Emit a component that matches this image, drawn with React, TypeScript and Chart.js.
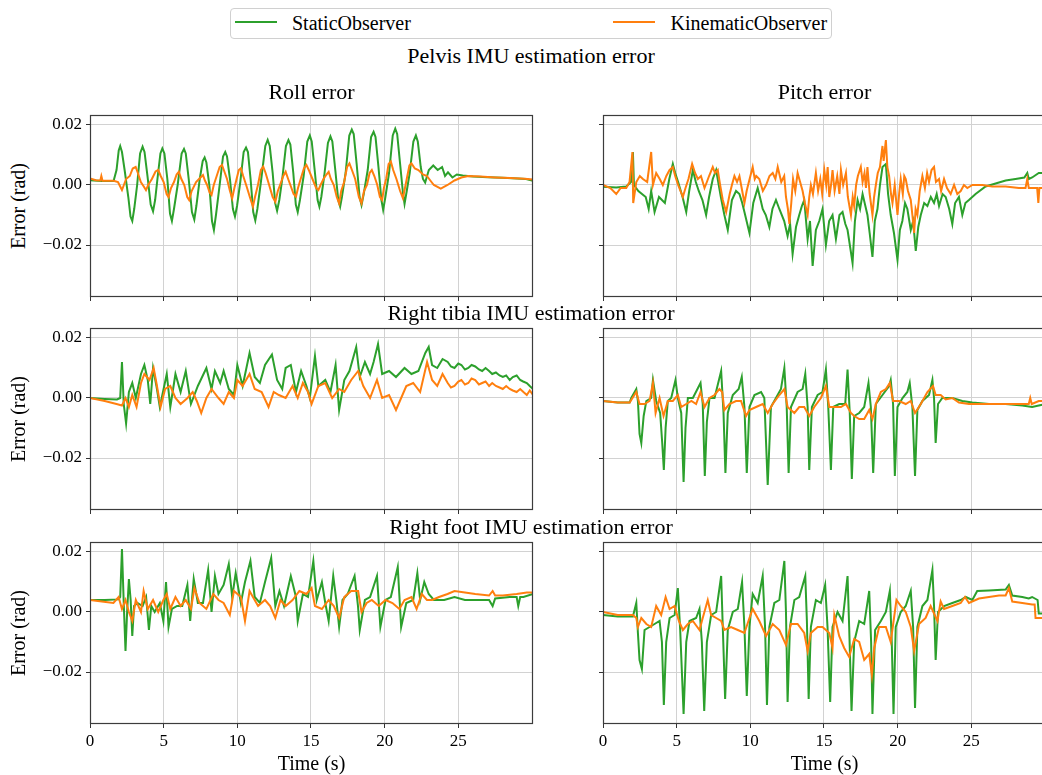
import React, { useEffect, useRef } from 'react';
import { Chart, registerables } from 'chart.js';

Chart.register(...registerables);

type Pts = [number, number][];

const seriesNames = ['StaticObserver', 'KinematicObserver'];
const seriesColors = ['#2ca02c', '#ff7f0e'];
const groupTitles = ['Pelvis IMU estimation error', 'Right tibia IMU estimation error', 'Right foot IMU estimation error'];
const columnTitles = ['Roll error', 'Pitch error'];
const yAxisLabel = 'Error (rad)';
const xAxisLabel = 'Time (s)';
const xTicks = [0, 5, 10, 15, 20, 25];
const yTicks = [-0.02, 0, 0.02];
const X_MIN = 0;
const X_MAX = 30.07;
const Y_MIN = -0.03733;
const Y_MAX = 0.02333;

// ---- Pelvis roll ----
const pelvisRollStatic: Pts = [
  [0, 0.0016], [0.8, 0.0013], [1.6, 0.0013], [1.8, 0.005], [1.95, 0.0115], [2.05, 0.013], [2.17, 0.011], [2.35, 0.005],
  [2.6, -0.004], [2.75, -0.0105], [2.87, -0.012], [3.0, -0.008], [3.2, 0.0], [3.4, 0.0105], [3.57, 0.0128], [3.7, 0.011],
  [3.9, 0.003], [4.12, -0.0065], [4.28, -0.0088], [4.42, -0.005], [4.6, 0.003], [4.78, 0.0105], [4.91, 0.0122], [5.05, 0.0105],
  [5.25, 0.002], [5.43, -0.0095], [5.56, -0.012], [5.7, -0.008], [5.95, 0.0], [6.22, 0.0105], [6.38, 0.012], [6.5, 0.0105],
  [6.7, 0.002], [6.92, -0.009], [7.08, -0.0115], [7.22, -0.007], [7.45, 0.002], [7.65, 0.008], [7.78, 0.0092], [7.9, 0.0075],
  [8.1, 0.0], [8.28, -0.012], [8.41, -0.015], [8.55, -0.01], [8.8, 0.0], [9.03, 0.0095], [9.18, 0.011], [9.3, 0.0095],
  [9.5, 0.002], [9.7, -0.008], [9.84, -0.0105], [9.98, -0.007], [10.2, 0.001], [10.43, 0.011], [10.59, 0.0125], [10.72, 0.011],
  [10.9, 0.002], [11.08, -0.009], [11.22, -0.0118], [11.36, -0.008], [11.6, 0.001], [11.9, 0.013], [12.06, 0.015], [12.2, 0.013],
  [12.4, 0.004], [12.57, -0.006], [12.7, -0.0086], [12.85, -0.005], [13.05, 0.002], [13.3, 0.013], [13.47, 0.015], [13.6, 0.0135],
  [13.8, 0.004], [13.97, -0.0065], [14.1, -0.009], [14.25, -0.005], [14.5, 0.003], [14.75, 0.0145], [14.92, 0.0165], [15.05, 0.0145],
  [15.25, 0.005], [15.45, -0.005], [15.57, -0.0072], [15.7, -0.004], [15.9, 0.003], [16.15, 0.014], [16.32, 0.0162], [16.45, 0.0145],
  [16.65, 0.005], [16.85, -0.005], [16.98, -0.0072], [17.1, -0.004], [17.35, 0.004], [17.6, 0.0165], [17.77, 0.0185], [17.9, 0.017],
  [18.1, 0.007], [18.3, -0.004], [18.43, -0.0067], [18.58, -0.003], [18.85, 0.005], [19.08, 0.016], [19.25, 0.0177], [19.38, 0.016],
  [19.58, 0.006], [19.78, -0.005], [19.9, -0.0083], [20.05, -0.004], [20.3, 0.004], [20.55, 0.0165], [20.72, 0.0188], [20.85, 0.017],
  [21.05, 0.007], [21.25, -0.003], [21.35, -0.0063], [21.5, -0.002], [21.7, 0.004], [21.95, 0.0145], [22.12, 0.0165], [22.25, 0.0145],
  [22.45, 0.006], [22.6, 0.002], [22.75, 0.0008], [23.0, 0.005], [23.3, 0.0065], [23.6, 0.005], [23.9, 0.006], [24.1, 0.003],
  [24.3, 0.0042], [24.6, 0.0025], [24.9, 0.0035], [25.3, 0.0032], [26.0, 0.0028], [27.0, 0.0026], [28.0, 0.0024], [29.0, 0.0022],
  [29.6, 0.002], [30.07, 0.0014],
];
const pelvisRollKinematic: Pts = [
  [0, 0.0022], [0.4, 0.0016], [0.7, 0.0015], [0.77, 0.003], [0.85, 0.0014], [1.6, 0.0014], [1.9, 0.001], [2.05, -0.0005],
  [2.17, -0.0017], [2.3, 0.0], [2.45, 0.002], [2.7, 0.003], [2.9, 0.0055], [3.1, 0.006], [3.25, 0.004], [3.45, 0.001],
  [3.65, -0.0005], [3.8, -0.0017], [3.95, 0.0], [4.2, 0.002], [4.45, 0.0045], [4.63, 0.005], [4.8, 0.003], [5.0, 0.001],
  [5.2, -0.003], [5.33, -0.004], [5.5, -0.001], [5.7, 0.001], [5.88, 0.0035], [6.03, 0.0044], [6.2, 0.002], [6.4, 0.0],
  [6.6, -0.004], [6.73, -0.005], [6.9, -0.002], [7.2, 0.001], [7.5, 0.0025], [7.67, 0.0033], [7.8, 0.0015], [7.95, 0.0],
  [8.12, -0.0025], [8.25, -0.0033], [8.4, 0.0], [8.6, 0.003], [8.8, 0.006], [8.96, 0.0067], [9.12, 0.0045], [9.3, 0.002],
  [9.5, -0.002], [9.65, -0.0044], [9.8, -0.001], [9.95, 0.002], [10.1, 0.005], [10.24, 0.0056], [10.4, 0.003], [10.6, 0.0],
  [10.85, -0.004], [11.06, -0.0072], [11.2, -0.004], [11.4, 0.0], [11.6, 0.005], [11.76, 0.0061], [11.92, 0.004], [12.1, 0.001],
  [12.4, -0.004], [12.58, -0.0056], [12.75, -0.002], [12.9, 0.0], [13.12, 0.003], [13.28, 0.0044], [13.45, 0.002], [13.6, 0.0],
  [13.82, -0.003], [13.98, -0.0039], [14.12, -0.001], [14.3, 0.002], [14.52, 0.0055], [14.69, 0.0067], [14.85, 0.005], [15.1, 0.002],
  [15.35, -0.001], [15.5, -0.0017], [15.65, 0.0], [15.85, 0.002], [16.05, 0.0035], [16.2, 0.0044], [16.35, 0.002], [16.55, 0.0],
  [16.75, -0.004], [16.91, -0.0061], [17.05, -0.002], [17.25, 0.001], [17.45, 0.006], [17.61, 0.0072], [17.78, 0.005], [18.0, 0.002],
  [18.25, -0.004], [18.43, -0.0061], [18.6, -0.002], [18.8, 0.0], [18.98, 0.004], [19.13, 0.005], [19.3, 0.003], [19.5, 0.0],
  [19.68, -0.004], [19.83, -0.005], [19.95, -0.001], [20.1, 0.002], [20.27, 0.007], [20.42, 0.0078], [20.58, 0.005], [20.8, 0.002],
  [21.05, -0.002], [21.24, -0.0044], [21.38, -0.001], [21.5, 0.002], [21.68, 0.0065], [21.82, 0.0072], [22.05, 0.0055], [22.29, 0.005],
  [22.6, 0.0035], [22.87, 0.003], [23.1, 0.0015], [23.34, 0.0], [23.81, -0.0012], [24.27, 0.0], [24.74, 0.0015], [25.21, 0.0025],
  [25.68, 0.003], [26.5, 0.0028], [27.5, 0.0025], [28.5, 0.0023], [29.5, 0.0021], [30.07, 0.0018],
];

// ---- Pelvis pitch ----
const pelvisPitchStatic: Pts = [
  [0, -0.0006], [0.9, -0.0008], [1.58, -0.0005], [1.9, 0.001], [2.03, 0.011], [2.1, 0.0], [2.4, -0.002], [2.9, -0.004],
  [3.1, -0.008], [3.27, -0.002], [3.5, -0.009], [3.8, -0.004], [4.2, -0.006], [4.5, 0.002], [4.74, 0.007], [4.9, 0.004],
  [5.1, 0.001], [5.4, -0.004], [5.65, -0.009], [5.85, -0.002], [6.1, 0.005], [6.3, 0.001], [6.5, -0.002], [6.75, -0.005],
  [7.0, -0.01], [7.2, -0.004], [7.45, 0.002], [7.68, 0.005], [8.0, -0.004], [8.24, -0.01], [8.47, -0.015], [8.75, -0.005],
  [9.03, -0.002], [9.26, -0.003], [9.45, -0.006], [9.6, -0.009], [9.94, -0.016], [10.2, -0.006], [10.5, -0.001], [10.7, -0.005],
  [10.84, -0.008], [11.05, -0.01], [11.29, -0.014], [11.5, -0.008], [11.74, -0.005], [11.97, -0.008], [12.3, -0.012], [12.53, -0.017],
  [12.7, -0.013], [12.87, -0.023], [13.1, -0.014], [13.32, -0.01], [13.5, -0.007], [13.66, -0.005], [13.89, -0.018], [14.05, -0.012],
  [14.23, -0.027], [14.45, -0.015], [14.68, -0.012], [14.9, -0.008], [15.13, -0.02], [15.35, -0.012], [15.58, -0.01], [15.81, -0.018],
  [16.05, -0.01], [16.26, -0.009], [16.45, -0.013], [16.6, -0.015], [16.94, -0.026], [17.1, -0.012], [17.28, -0.005], [17.45, -0.008],
  [17.62, -0.003], [17.95, -0.01], [18.1, -0.016], [18.29, -0.024], [18.45, -0.012], [18.63, -0.008], [18.8, 0.0], [18.97, 0.006],
  [19.2, 0.007], [19.35, -0.003], [19.53, -0.01], [19.75, -0.016], [19.99, -0.025], [20.15, -0.015], [20.32, -0.012], [20.5, -0.006],
  [20.66, -0.008], [20.89, -0.015], [21.05, -0.012], [21.23, -0.022], [21.4, -0.014], [21.57, -0.01], [21.8, -0.006], [22.02, -0.007],
  [22.25, -0.004], [22.47, -0.006], [22.65, -0.003], [22.81, -0.007], [23.05, -0.003], [23.26, -0.004], [23.5, -0.008], [23.71, -0.013],
  [23.9, -0.006], [24.16, -0.004], [24.39, -0.01], [24.6, -0.006], [24.84, -0.005], [25.29, -0.003], [25.97, -0.0005], [26.65, 0.0005],
  [27.33, 0.0015], [28.0, 0.002], [28.6, 0.0025], [28.8, 0.004], [28.9, 0.002], [29.13, 0.0025], [29.58, 0.004], [30.07, 0.004],
];
const pelvisPitchKinematic: Pts = [
  [0, 0.0], [0.5, -0.001], [0.9, -0.003], [1.2, -0.001], [1.58, -0.001], [1.8, 0.001], [2.0, 0.011], [2.05, -0.006],
  [2.26, 0.001], [2.5, 0.003], [2.71, 0.002], [3.0, 0.001], [3.27, 0.011], [3.39, 0.0], [3.61, 0.004], [3.85, 0.002],
  [4.06, 0.0], [4.3, 0.003], [4.52, 0.005], [4.74, 0.006], [4.9, 0.003], [5.1, 0.0], [5.42, -0.004], [5.6, -0.001],
  [5.8, 0.002], [6.05, 0.007], [6.25, 0.004], [6.44, 0.002], [6.65, 0.003], [6.89, -0.001], [7.05, 0.001], [7.2, 0.003],
  [7.45, 0.006], [7.6, 0.004], [7.79, 0.005], [7.95, 0.0], [8.13, -0.005], [8.36, -0.009], [8.6, -0.003], [8.75, 0.0],
  [8.92, 0.003], [9.1, 0.001], [9.26, 0.003], [9.45, -0.002], [9.6, -0.006], [9.75, -0.002], [9.9, 0.001], [10.16, 0.006],
  [10.3, 0.002], [10.4, 0.003], [10.61, 0.002], [10.85, -0.002], [11.07, 0.0], [11.3, 0.003], [11.52, 0.004], [11.7, 0.002],
  [11.86, 0.006], [12.1, 0.001], [12.3, 0.003], [12.42, -0.004], [12.55, -0.008], [12.65, -0.013], [12.78, -0.006], [12.9, 0.002],
  [13.05, -0.002], [13.21, 0.004], [13.38, 0.001], [13.55, -0.002], [13.7, -0.006], [13.89, -0.01], [14.0, -0.004], [14.11, 0.0],
  [14.25, -0.003], [14.45, 0.004], [14.6, -0.002], [14.75, 0.002], [14.88, -0.003], [15.02, 0.005], [15.15, 0.0], [15.25, 0.006],
  [15.36, -0.004], [15.48, 0.0], [15.58, 0.005], [15.72, -0.002], [15.9, 0.003], [16.05, -0.003], [16.15, 0.005], [16.3, 0.0],
  [16.49, 0.004], [16.62, -0.004], [16.83, -0.01], [16.95, -0.004], [17.05, -0.007], [17.18, 0.0], [17.3, 0.003], [17.5, 0.006],
  [17.62, 0.001], [17.75, 0.004], [17.85, -0.001], [17.95, 0.006], [18.1, -0.003], [18.29, -0.01], [18.4, -0.004], [18.52, 0.0],
  [18.65, 0.004], [18.8, 0.006], [18.97, 0.013], [19.05, 0.008], [19.2, 0.015], [19.3, 0.006], [19.42, 0.003], [19.55, -0.003],
  [19.65, -0.006], [19.8, 0.0], [19.99, -0.01], [20.1, -0.003], [20.21, 0.002], [20.35, -0.003], [20.45, 0.003], [20.55, 0.002],
  [20.7, -0.002], [20.89, -0.005], [21.0, -0.01], [21.12, -0.016], [21.22, -0.008], [21.34, -0.01], [21.5, -0.002], [21.68, 0.003],
  [21.85, -0.001], [22.0, 0.004], [22.13, 0.001], [22.3, 0.005], [22.47, 0.006], [22.6, 0.001], [22.81, 0.002], [22.95, -0.002],
  [23.15, 0.002], [23.35, -0.001], [23.6, -0.003], [23.83, 0.0], [24.05, -0.003], [24.28, -0.002], [24.5, 0.0], [24.73, -0.001],
  [25.07, 0.0], [25.75, 0.0], [26.42, -0.0005], [27.33, -0.0005], [28.23, -0.001], [28.68, -0.001], [28.8, 0.002], [28.9, -0.001],
  [29.47, -0.001], [29.55, -0.006], [29.62, -0.001], [30.07, -0.001],
];

// ---- Right tibia roll ----
const tibiaRollStatic: Pts = [
  [0, 0.0], [1.0, -0.0003], [1.83, -0.0005], [2.05, 0.0], [2.17, 0.012], [2.29, -0.002], [2.45, -0.0085], [2.64, 0.002],
  [2.87, 0.005], [3.11, 0.0], [3.46, 0.008], [3.69, 0.011], [3.92, 0.006], [4.09, -0.002], [4.28, 0.01], [4.51, 0.004],
  [4.74, -0.003], [5.21, 0.008], [5.45, -0.003], [5.8, 0.008], [6.15, 0.002], [6.5, 0.009], [6.85, -0.002], [7.32, 0.004],
  [7.9, 0.01], [8.25, 0.003], [8.48, 0.009], [8.84, 0.005], [9.07, 0.009], [9.42, 0.003], [9.77, 0.001], [10.0, 0.011],
  [10.36, 0.004], [10.83, 0.015], [11.18, 0.007], [11.53, 0.005], [11.88, 0.011], [12.35, 0.0145], [12.7, 0.006], [13.05, 0.003],
  [13.28, 0.01], [13.63, 0.011], [13.98, 0.002], [14.33, 0.009], [14.69, 0.004], [14.92, 0.0], [15.27, 0.014], [15.5, 0.004],
  [15.97, 0.006], [16.32, 0.002], [16.67, 0.011], [16.91, -0.004], [17.26, 0.006], [17.61, 0.009], [18.07, 0.017], [18.31, 0.007],
  [18.66, 0.012], [19.01, 0.008], [19.25, 0.012], [19.55, 0.018], [19.83, 0.008], [20.3, 0.009], [20.77, 0.007], [21.35, 0.01],
  [21.82, 0.008], [22.29, 0.009], [22.76, 0.015], [22.99, 0.017], [23.22, 0.011], [23.57, 0.01], [23.93, 0.013], [24.28, 0.012],
  [24.5, 0.0105], [24.74, 0.01], [25.0, 0.0115], [25.21, 0.011], [25.45, 0.0095], [25.68, 0.01], [25.9, 0.011], [26.15, 0.0105],
  [26.4, 0.0095], [26.62, 0.009], [26.85, 0.01], [27.09, 0.009], [27.3, 0.008], [27.55, 0.0085], [27.8, 0.0075], [28.02, 0.007],
  [28.25, 0.0075], [28.49, 0.006], [28.7, 0.007], [28.96, 0.0075], [29.2, 0.006], [29.4, 0.0055], [29.65, 0.005], [29.85, 0.004],
  [30.07, 0.003],
];
const tibiaRollKinematic: Pts = [
  [0, 0.0], [1.0, -0.001], [1.8, -0.002], [2.17, -0.0025], [2.41, 0.0], [2.64, -0.003], [2.87, 0.001], [3.16, -0.003],
  [3.46, 0.005], [3.69, 0.008], [4.04, 0.006], [4.32, 0.01], [4.51, 0.005], [4.79, -0.003], [5.1, 0.003], [5.45, 0.004],
  [5.8, 0.0], [6.15, -0.002], [6.62, 0.0], [6.97, 0.002], [7.25, -0.001], [7.55, -0.005], [7.9, 0.0], [8.25, 0.003],
  [8.72, 0.0], [9.07, -0.002], [9.42, 0.002], [9.77, 0.0], [10.0, 0.006], [10.36, 0.004], [10.83, 0.008], [11.18, 0.003],
  [11.65, 0.002], [12.12, -0.003], [12.47, 0.002], [12.82, 0.001], [13.28, 0.0], [13.75, 0.004], [14.1, 0.0], [14.45, 0.005],
  [14.8, 0.002], [15.04, -0.002], [15.5, 0.004], [15.97, 0.005], [16.44, 0.0], [16.91, 0.003], [17.26, 0.002], [17.73, 0.006],
  [18.2, 0.009], [18.55, 0.004], [19.01, 0.0], [19.48, 0.006], [19.83, 0.0], [20.3, 0.001], [20.77, -0.004], [21.12, 0.0],
  [21.47, 0.004], [21.94, 0.005], [22.41, 0.002], [22.88, 0.012], [23.22, 0.006], [23.57, 0.004], [23.93, 0.008], [24.28, 0.005],
  [24.5, 0.0035], [24.74, 0.004], [25.0, 0.0055], [25.21, 0.006], [25.45, 0.0045], [25.68, 0.005], [25.9, 0.0065], [26.15, 0.006],
  [26.4, 0.0045], [26.62, 0.005], [26.85, 0.0055], [27.09, 0.004], [27.3, 0.005], [27.55, 0.004], [27.8, 0.0035], [28.02, 0.003],
  [28.25, 0.004], [28.49, 0.003], [28.7, 0.0025], [28.96, 0.002], [29.2, 0.003], [29.42, 0.002], [29.65, 0.001], [29.85, 0.0025],
  [30.07, 0.001],
];

// ---- Right tibia pitch ----
const tibiaPitchStatic: Pts = [
  [0, -0.001], [1.0, -0.0015], [1.81, -0.0015], [1.92, 0.0], [2.26, 0.003], [2.37, -0.001], [2.48, -0.012], [2.6, -0.015],
  [2.76, -0.006], [2.94, -0.001], [3.27, 0.0], [3.39, 0.006], [3.61, -0.001], [3.88, -0.005], [4.02, -0.015], [4.13, -0.024],
  [4.25, -0.01], [4.4, -0.001], [4.63, 0.0], [4.92, 0.006], [5.08, 0.0], [5.31, -0.005], [5.47, -0.028], [5.6, -0.01],
  [5.76, 0.0], [6.1, 0.0], [6.62, 0.005], [6.77, -0.002], [6.91, -0.026], [7.05, -0.008], [7.23, 0.0], [7.57, 0.0],
  [8.02, 0.009], [8.18, -0.005], [8.31, -0.025], [8.47, -0.005], [8.81, 0.001], [9.21, 0.003], [9.42, 0.007], [9.6, -0.003],
  [9.76, -0.025], [9.94, -0.003], [10.28, 0.001], [10.73, 0.002], [10.95, 0.0], [11.18, -0.029], [11.4, -0.003], [11.74, 0.0],
  [12.08, 0.003], [12.31, 0.01], [12.47, -0.003], [12.6, -0.025], [12.76, -0.003], [13.21, 0.002], [13.55, 0.003], [13.73, 0.008],
  [13.89, -0.003], [14.0, -0.024], [14.18, -0.003], [14.57, 0.001], [14.9, 0.002], [15.13, 0.0095], [15.29, -0.003], [15.47, -0.024],
  [15.63, -0.003], [16.03, -0.002], [16.44, -0.002], [16.6, 0.0095], [16.75, -0.005], [16.89, -0.027], [17.05, -0.006], [17.39, -0.005],
  [17.73, -0.003], [18.02, 0.005], [18.18, -0.003], [18.34, -0.025], [18.52, -0.002], [18.97, 0.001], [19.42, 0.004], [19.53, 0.006],
  [19.69, -0.002], [19.81, -0.026], [19.99, -0.003], [20.33, 0.0], [20.66, 0.002], [20.82, 0.005], [21.0, -0.003], [21.18, -0.026],
  [21.34, -0.004], [21.68, -0.001], [22.13, 0.001], [22.36, 0.006], [22.47, 0.0], [22.58, -0.015], [22.74, -0.002], [23.03, 0.0],
  [23.71, 0.0], [24.39, -0.001], [25.07, -0.0015], [26.2, -0.002], [27.33, -0.002], [28.46, -0.0025], [29.13, -0.003], [29.58, -0.0025],
  [30.07, -0.002],
];
const tibiaPitchKinematic: Pts = [
  [0, -0.001], [1.0, -0.0015], [1.81, -0.0015], [2.26, 0.002], [2.48, -0.002], [2.82, -0.002], [3.16, -0.001], [3.39, 0.005],
  [3.57, -0.005], [3.84, 0.0], [4.11, -0.006], [4.4, -0.001], [4.74, -0.001], [5.08, 0.001], [5.31, -0.003], [5.65, -0.002],
  [6.0, -0.001], [6.32, -0.002], [6.62, 0.002], [6.89, -0.003], [7.23, 0.0], [7.57, 0.001], [7.9, 0.003], [8.09, 0.002],
  [8.24, -0.004], [8.58, -0.002], [9.03, -0.001], [9.37, -0.001], [9.71, -0.006], [9.94, -0.004], [10.39, -0.003], [10.84, -0.002],
  [11.18, -0.005], [11.52, -0.002], [11.97, 0.001], [12.31, 0.003], [12.53, -0.003], [12.99, -0.005], [13.32, -0.003], [13.66, -0.003],
  [14.0, -0.006], [14.34, -0.003], [14.79, 0.0], [15.13, 0.004], [15.36, -0.003], [15.7, -0.003], [16.15, -0.003], [16.49, -0.002],
  [16.83, -0.005], [17.05, -0.006], [17.39, -0.007], [17.73, -0.007], [18.07, -0.004], [18.29, -0.007], [18.52, -0.002], [18.86, 0.002],
  [19.2, 0.003], [19.47, 0.005], [19.69, -0.001], [20.1, -0.001], [20.55, -0.002], [20.89, -0.001], [21.18, -0.005], [21.57, -0.002],
  [22.02, 0.002], [22.4, 0.004], [22.58, 0.001], [22.92, 0.001], [23.26, -0.0005], [23.71, 0.0], [24.16, -0.0015], [24.84, -0.002],
  [25.75, -0.002], [26.88, -0.002], [28.0, -0.002], [28.9, -0.002], [29.0, 0.0], [29.1, -0.002], [29.58, -0.001], [30.07, -0.001],
];

// ---- Right foot roll ----
const footRollStatic: Pts = [
  [0, 0.004], [1.0, 0.004], [1.94, 0.0042], [2.05, 0.005], [2.17, 0.021], [2.29, 0.003], [2.41, -0.013], [2.52, 0.0],
  [2.64, 0.011], [2.76, 0.004], [2.87, -0.008], [2.99, 0.002], [3.22, 0.003], [3.57, 0.002], [3.81, 0.005], [4.0, -0.006],
  [4.16, 0.002], [4.39, 0.0], [4.74, 0.003], [4.98, -0.003], [5.16, 0.01], [5.33, -0.005], [5.56, 0.001], [5.91, 0.002],
  [6.26, 0.002], [6.61, 0.009], [6.8, -0.003], [7.04, 0.011], [7.32, 0.003], [7.67, 0.003], [8.02, 0.014], [8.25, 0.0],
  [8.48, 0.012], [8.72, 0.006], [9.07, 0.009], [9.42, 0.016], [9.65, 0.005], [9.89, 0.013], [10.24, 0.003], [10.52, 0.01],
  [10.89, 0.017], [11.18, 0.005], [11.53, 0.003], [11.88, 0.01], [12.3, 0.018], [12.58, 0.002], [12.86, 0.007], [13.17, 0.002],
  [13.63, 0.012], [13.98, 0.005], [14.1, -0.003], [14.45, 0.006], [14.8, 0.005], [15.16, 0.017], [15.39, 0.004], [15.74, 0.01],
  [15.97, 0.003], [16.2, -0.003], [16.51, 0.012], [16.74, 0.003], [16.91, -0.005], [17.14, 0.004], [17.49, 0.006], [17.96, 0.012],
  [18.19, 0.002], [18.31, -0.006], [18.66, 0.004], [19.01, 0.005], [19.48, 0.012], [19.71, -0.005], [20.06, 0.004], [20.42, 0.005],
  [20.89, 0.015], [21.12, -0.005], [21.47, 0.003], [21.94, 0.004], [22.22, 0.013], [22.41, 0.004], [22.69, 0.01], [22.99, 0.006],
  [23.34, 0.004], [24.04, 0.004], [24.74, 0.005], [25.45, 0.004], [26.15, 0.004], [27.09, 0.004], [27.33, 0.002], [27.5, 0.0045],
  [28.49, 0.005], [28.96, 0.005], [29.07, 0.002], [29.2, 0.005], [29.42, 0.005], [30.07, 0.006],
];
const footRollKinematic: Pts = [
  [0, 0.004], [0.8, 0.0035], [1.59, 0.003], [1.94, 0.005], [2.17, 0.001], [2.41, 0.004], [2.64, 0.0], [2.87, -0.003],
  [3.11, 0.004], [3.46, 0.0], [3.64, 0.007], [3.92, 0.001], [4.28, 0.004], [4.63, 0.0], [4.98, 0.004], [5.21, 0.006],
  [5.45, 0.001], [5.8, 0.005], [6.15, 0.002], [6.5, 0.004], [6.85, 0.001], [7.09, 0.008], [7.43, 0.003], [7.9, 0.001],
  [8.37, 0.006], [8.72, 0.004], [9.07, 0.003], [9.49, -0.001], [9.77, 0.007], [10.24, 0.005], [10.52, -0.003], [10.83, 0.007],
  [11.06, 0.005], [11.41, 0.002], [11.88, 0.004], [12.23, 0.002], [12.58, -0.002], [12.93, 0.004], [13.28, 0.002], [13.75, 0.004],
  [14.21, 0.007], [14.69, 0.006], [15.04, 0.008], [15.27, 0.002], [15.74, 0.001], [16.2, 0.004], [16.55, 0.002], [16.91, -0.002],
  [17.26, 0.005], [17.73, 0.007], [18.2, 0.007], [18.43, 0.0], [18.78, 0.003], [19.13, 0.004], [19.6, 0.002], [20.06, 0.004],
  [20.53, 0.003], [21.0, 0.001], [21.35, 0.004], [21.82, 0.005], [22.17, 0.001], [22.52, 0.006], [22.87, 0.004], [23.22, 0.004],
  [23.69, 0.005], [24.27, 0.006], [24.74, 0.007], [25.45, 0.0065], [26.15, 0.006], [27.09, 0.0055], [27.33, 0.007], [27.5, 0.0055],
  [28.02, 0.0055], [28.96, 0.006], [29.65, 0.0065], [30.07, 0.0065],
];

// ---- Right foot pitch ----
const footPitchStatic: Pts = [
  [0, -0.001], [1.0, -0.0015], [2.03, -0.0015], [2.26, 0.003], [2.37, -0.007], [2.48, -0.016], [2.64, -0.019], [2.82, -0.006],
  [3.16, -0.005], [3.5, -0.004], [3.84, -0.003], [4.0, -0.01], [4.13, -0.031], [4.29, -0.01], [4.52, -0.002], [4.86, -0.001],
  [5.08, 0.008], [5.24, -0.006], [5.47, -0.034], [5.65, -0.01], [5.87, -0.003], [6.32, -0.002], [6.55, 0.001], [6.71, -0.01],
  [6.87, -0.033], [7.05, -0.01], [7.34, -0.001], [7.68, 0.0], [8.02, 0.012], [8.13, -0.005], [8.29, -0.029], [8.47, -0.006],
  [8.81, 0.0], [9.15, 0.001], [9.44, 0.01], [9.6, -0.005], [9.76, -0.028], [9.94, -0.005], [10.16, 0.006], [10.5, 0.003],
  [10.84, 0.012], [11.0, -0.005], [11.13, -0.031], [11.29, -0.005], [11.63, 0.003], [11.97, 0.004], [12.31, 0.017], [12.42, 0.0],
  [12.53, -0.03], [12.69, -0.005], [12.99, 0.004], [13.32, 0.005], [13.73, 0.012], [13.84, -0.003], [13.96, -0.029], [14.11, -0.005],
  [14.45, 0.004], [14.79, 0.003], [15.08, 0.009], [15.24, -0.005], [15.42, -0.03], [15.58, -0.005], [15.92, 0.0], [16.26, -0.003],
  [16.6, 0.012], [16.71, -0.005], [16.87, -0.033], [17.05, -0.01], [17.39, -0.003], [17.73, -0.004], [18.07, 0.007], [18.2, -0.01],
  [18.29, -0.034], [18.47, -0.006], [18.86, -0.003], [19.2, 0.0], [19.47, 0.007], [19.6, -0.01], [19.72, -0.034], [19.87, -0.005],
  [20.21, 0.0], [20.55, 0.002], [20.89, 0.007], [21.05, -0.005], [21.18, -0.032], [21.34, -0.005], [21.68, 0.002], [22.02, 0.004],
  [22.36, 0.014], [22.47, 0.002], [22.58, -0.016], [22.74, 0.0], [23.15, 0.002], [23.71, 0.003], [24.28, 0.004], [24.62, 0.005],
  [25.07, 0.004], [25.4, 0.007], [26.2, 0.0072], [27.33, 0.0075], [27.55, 0.009], [27.78, 0.0055], [28.46, 0.005], [28.9, 0.0045],
  [29.13, 0.005], [29.5, 0.004], [29.58, -0.0005], [30.07, -0.0005],
];
const footPitchKinematic: Pts = [
  [0, 0.0], [1.0, -0.001], [2.03, -0.001], [2.26, -0.002], [2.37, -0.005], [2.6, -0.002], [2.94, -0.004], [3.27, -0.005],
  [3.61, 0.002], [3.95, -0.001], [4.25, 0.005], [4.52, 0.001], [4.86, 0.002], [5.15, -0.003], [5.42, -0.006], [5.76, -0.004],
  [6.1, -0.003], [6.55, -0.006], [6.77, -0.002], [7.11, 0.004], [7.34, -0.001], [7.68, -0.002], [8.02, -0.003], [8.24, -0.006],
  [8.69, -0.005], [9.15, -0.006], [9.6, -0.007], [9.94, -0.002], [10.16, 0.001], [10.61, -0.003], [11.07, -0.008], [11.52, -0.004],
  [11.97, -0.006], [12.42, -0.011], [12.76, -0.004], [13.21, -0.004], [13.66, -0.007], [13.89, -0.013], [14.11, -0.007], [14.57, -0.005],
  [14.9, -0.005], [15.36, -0.007], [15.58, -0.012], [15.7, -0.001], [16.03, -0.008], [16.37, -0.012], [16.71, -0.015], [17.05, -0.009],
  [17.39, -0.01], [17.73, -0.016], [18.07, -0.014], [18.25, -0.021], [18.41, -0.012], [18.74, -0.005], [19.2, -0.005], [19.53, -0.01],
  [19.92, 0.004], [20.21, 0.002], [20.55, 0.0], [20.89, -0.005], [21.12, -0.013], [21.45, -0.004], [21.9, -0.002], [22.24, 0.002],
  [22.7, -0.003], [22.92, 0.0035], [23.15, 0.001], [23.71, 0.002], [24.28, 0.003], [24.57, 0.005], [24.84, 0.003], [25.52, 0.0045],
  [26.2, 0.005], [26.88, 0.0055], [27.33, 0.0055], [27.55, 0.008], [27.78, 0.0035], [28.46, 0.003], [29.13, 0.0025], [29.3, 0.0025],
  [29.36, -0.002], [30.07, -0.002],
];

const panelSeries: [Pts, Pts][][] = [
  [[pelvisRollStatic, pelvisRollKinematic], [pelvisPitchStatic, pelvisPitchKinematic]],
  [[tibiaRollStatic, tibiaRollKinematic], [tibiaPitchStatic, tibiaPitchKinematic]],
  [[footRollStatic, footRollKinematic], [footPitchStatic, footPitchKinematic]],
];

// ---- layout (pixels) ----
const ROW_TOP = [115, 328, 542];
const COL_LEFT = [90, 603];
const PLOT_W = 443;
const PLOT_H = 182;
const PAD_T = 20;
const PAD_R = 10;
const FONT = '"Liberation Serif", "DejaVu Serif", serif';
const GRID_COLOR = '#d2d2d2';
const TICK_COLOR = '#333333';
const FRAME_COLOR = '#3c3c3c';

const framePlugin = {
  id: 'frame',
  afterDatasetsDraw(chart: any) {
    const a = chart.chartArea;
    const ctx = chart.ctx;
    ctx.save();
    ctx.strokeStyle = FRAME_COLOR;
    ctx.lineWidth = 1.2;
    ctx.strokeRect(Math.round(a.left) + 0.5, Math.round(a.top) + 0.5, Math.round(a.right - a.left) - 1, Math.round(a.bottom - a.top) - 1);
    ctx.restore();
  },
};

function fmtY(v: number) {
  if (Math.abs(v) < 1e-9) return '0.00';
  return (v < 0 ? '\u2212' : '') + Math.abs(v).toFixed(2);
}

function Panel({ row, col }: { row: number; col: number }) {
  const ref = useRef<HTMLCanvasElement>(null);
  const yw = col === 0 ? 60 : 12;
  const xh = row === 2 ? 40 : 14;
  const w = yw + PLOT_W + PAD_R;
  const h = PAD_T + PLOT_H + xh;
  const left = COL_LEFT[col] - yw;
  const top = ROW_TOP[row] - PAD_T;

  useEffect(() => {
    const [st, kin] = panelSeries[row][col];
    const zeroPad = (s: any) => {
      s.paddingLeft = 0; s.paddingRight = 0; s.paddingTop = 0; s.paddingBottom = 0;
    };
    const chart = new Chart(ref.current as HTMLCanvasElement, {
      type: 'line',
      data: {
        datasets: [
          {
            label: seriesNames[0],
            data: st.map(([x, y]) => ({ x, y })),
            borderColor: seriesColors[0],
            backgroundColor: seriesColors[0],
            borderWidth: 2,
            pointRadius: 0,
            tension: 0,
            fill: false,
            order: 1,
            clip: 0,
          },
          {
            label: seriesNames[1],
            data: kin.map(([x, y]) => ({ x, y })),
            borderColor: seriesColors[1],
            backgroundColor: seriesColors[1],
            borderWidth: 2,
            pointRadius: 0,
            tension: 0,
            fill: false,
            order: 0,
            clip: 0,
          },
        ],
      },
      options: {
        responsive: false,
        maintainAspectRatio: false,
        animation: false,
        devicePixelRatio: 1,
        events: [],
        layout: { padding: { left: 0, top: PAD_T, right: PAD_R, bottom: 0 } },
        plugins: { legend: { display: false }, tooltip: { enabled: false }, title: { display: false } },
        scales: {
          x: {
            type: 'linear',
            min: X_MIN,
            max: X_MAX,
            afterBuildTicks: (s: any) => { s.ticks = xTicks.map((v) => ({ value: v })); },
            afterFit: (s: any) => { s.height = xh; zeroPad(s); },
            border: { display: false },
            grid: { color: GRID_COLOR, lineWidth: 1, drawTicks: true, tickLength: 4, tickColor: TICK_COLOR, tickWidth: 1 },
            ticks: {
              display: row === 2,
              color: '#000',
              font: { family: FONT, size: 17 },
              padding: 3,
              maxRotation: 0,
              autoSkip: false,
              callback: (v: any) => String(v),
            },
          },
          y: {
            type: 'linear',
            min: Y_MIN,
            max: Y_MAX,
            afterBuildTicks: (s: any) => { s.ticks = yTicks.map((v) => ({ value: v })); },
            afterFit: (s: any) => { s.width = yw; zeroPad(s); },
            border: { display: false },
            grid: { color: GRID_COLOR, lineWidth: 1, drawTicks: true, tickLength: 4, tickColor: TICK_COLOR, tickWidth: 1 },
            ticks: {
              display: col === 0,
              color: '#000',
              font: { family: FONT, size: 17 },
              padding: 4,
              autoSkip: false,
              callback: (v: any) => fmtY(Number(v)),
            },
          },
        },
      },
      plugins: [framePlugin],
    } as any);
    return () => chart.destroy();
  }, [row, col]);

  return (
    <canvas
      ref={ref}
      width={w}
      height={h}
      style={{ position: 'absolute', left, top, width: w, height: h }}
    />
  );
}

function Text({ x, baseline, size, children, align = 'center' }: any) {
  const top = baseline - size * 0.8375;
  const style: any = {
    position: 'absolute',
    top,
    fontFamily: FONT,
    fontSize: size,
    lineHeight: `${size}px`,
    color: '#000',
    whiteSpace: 'nowrap',
  };
  if (align === 'center') {
    style.left = x - 400;
    style.width = 800;
    style.textAlign = 'center';
  } else {
    style.left = x;
  }
  return <div style={style}>{children}</div>;
}

export default function App() {
  const groupBaselines = [63.3, 320.7, 534];
  const rows = [0, 1, 2];
  const cols = [0, 1];
  return (
    <div
      style={{
        position: 'absolute',
        left: 0,
        top: 0,
        width: 1042,
        height: 775,
        overflow: 'hidden',
        background: '#ffffff',
      }}
    >
      {rows.map((r) => cols.map((c) => <Panel key={`${r}-${c}`} row={r} col={c} />))}

      {/* legend */}
      <div
        style={{
          position: 'absolute',
          left: 230,
          top: 7.5,
          width: 602,
          height: 31,
          border: '1px solid #d0d0d0',
          borderRadius: 4,
          boxSizing: 'border-box',
          background: 'rgba(255,255,255,0.8)',
        }}
      />
      <div style={{ position: 'absolute', left: 235, top: 21, width: 42, height: 2, background: seriesColors[0] }} />
      <Text x={292} baseline={29.3} size={20} align="left">{seriesNames[0]}</Text>
      <div style={{ position: 'absolute', left: 613, top: 21, width: 42, height: 2, background: seriesColors[1] }} />
      <Text x={670.5} baseline={29.3} size={20} align="left">{seriesNames[1]}</Text>

      {groupTitles.map((t, i) => (
        <Text key={t} x={531} baseline={groupBaselines[i]} size={22}>{t}</Text>
      ))}
      {columnTitles.map((t, c) => (
        <Text key={t} x={COL_LEFT[c] + PLOT_W / 2} baseline={99} size={22}>{t}</Text>
      ))}
      {rows.map((r) => (
        <div
          key={`yl${r}`}
          style={{
            position: 'absolute',
            left: 18 - 100,
            top: ROW_TOP[r] + PLOT_H / 2 - 10,
            width: 200,
            height: 20,
            lineHeight: '20px',
            textAlign: 'center',
            fontFamily: FONT,
            fontSize: 20,
            color: '#000',
            transform: 'rotate(-90deg)',
            transformOrigin: '50% 50%',
            whiteSpace: 'nowrap',
          }}
        >
          {yAxisLabel}
        </div>
      ))}
      {cols.map((c) => (
        <Text key={`xl${c}`} x={COL_LEFT[c] + PLOT_W / 2} baseline={770} size={20}>{xAxisLabel}</Text>
      ))}
    </div>
  );
}
